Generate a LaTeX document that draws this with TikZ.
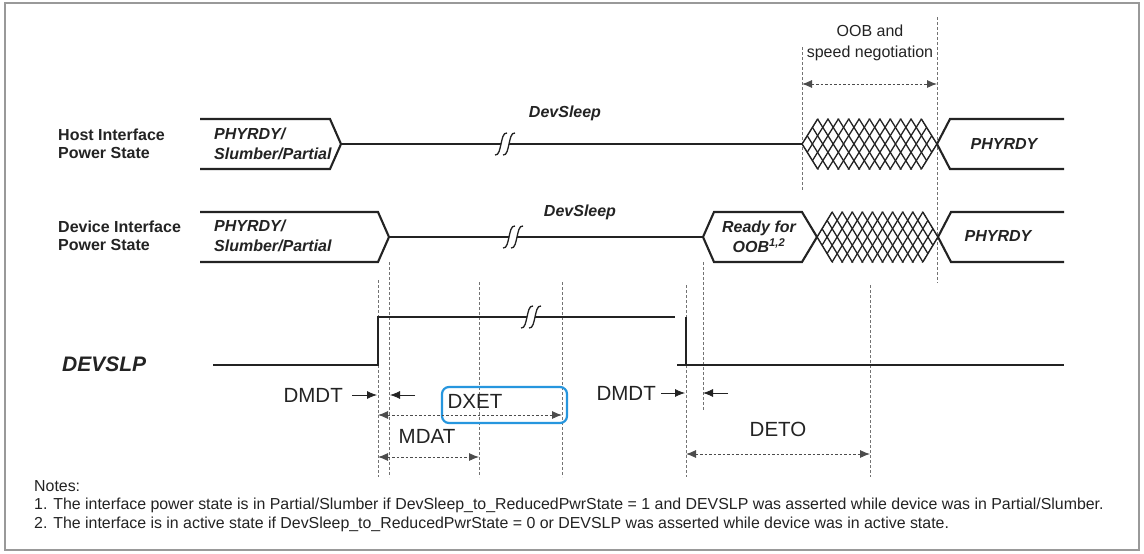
\documentclass[tikz,border=0pt]{standalone}
\usepackage{fontspec}
\setmainfont{Liberation Sans}
\usetikzlibrary{arrows.meta}
\definecolor{hiblue}{RGB}{38,150,222}
\definecolor{ink}{RGB}{35,35,35}
\newcommand\brkmk[2]{%
  \fill[white] ({#1-4},{#2-3}) rectangle ({#1+4},{#2+3});
  \foreach \dd in {-4,4}{%
    \draw[line width=1.3pt, ink] ({#1+\dd-6},{#2+11}) .. controls ({#1+\dd-2},{#2+12}) and ({#1+\dd-1},{#2+4}) .. ({#1+\dd},{#2}) .. controls ({#1+\dd+1},{#2-4}) and ({#1+\dd+2},{#2-12}) .. ({#1+\dd+6},{#2-11});}}
\newcommand\hatchx[4]{% x0, N, w, ymid
  \begin{scope}
  \clip (#1,#4) -- ({#1+1.5*#3},{#4-25.5}) -- ({#1+(#2-1.5)*#3},{#4-25.5}) -- ({#1+#2*#3},#4) -- ({#1+(#2-1.5)*#3},{#4+25.5}) -- ({#1+1.5*#3},{#4+25.5}) -- cycle;
  \foreach \i in {-3,...,17}{%
    \draw[hatchln] ({#1+(\i-2)*#3},{#4+33.33}) -- ({#1+(\i+2)*#3},{#4-33.33});
    \draw[hatchln] ({#1+(\i-2)*#3},{#4-33.33}) -- ({#1+(\i+2)*#3},{#4+33.33});}
  \end{scope}
  \draw[hatchln] ({#1+1.5*#3},{#4-25}) -- (#1,#4) -- ({#1+1.5*#3},{#4+25});
  \draw[hatchln] ({#1+(#2-1.5)*#3},{#4-25}) -- ({#1+#2*#3},#4) -- ({#1+(#2-1.5)*#3},{#4+25});}
\begin{document}
\begin{tikzpicture}[x=1pt,y=-1pt,
  sig/.style={line width=1.7pt, draw=ink},
  bus/.style={line width=2.1pt, draw=ink},
  hatchln/.style={line width=1.3pt, draw=ink},
  guide/.style={draw=black!55, line width=0.75pt, dash pattern=on 3pt off 2pt},
  meas/.style={draw=black!70, line width=0.9pt, dash pattern=on 2.5pt off 2pt, {Latex[length=10pt,width=8pt]}-{Latex[length=10pt,width=8pt]}},
  ptr/.style={draw=ink, line width=0.8pt, -{Latex[length=10pt,width=8pt]}},
  lbl/.style={font=\fontsize{16}{18.5}\selectfont\bfseries, text=ink, align=left, inner sep=0pt},
  st/.style={font=\fontsize{16}{20}\selectfont\bfseries\itshape, text=ink, align=left, inner sep=0pt},
  oob/.style={font=\fontsize{16}{21}\selectfont, text=ink, align=center, inner sep=0pt},
  tm/.style={font=\fontsize{20.5}{22}\selectfont, text=ink, inner sep=0pt},
  notes/.style={font=\fontsize{15.9}{18}\selectfont, text=ink, inner sep=0pt, anchor=west},
  ]
\useasboundingbox (0,0) rectangle (1144,554);
\fill[white] (0,0) rectangle (1144,554);
\draw[black!40, line width=2pt] (5,3) rectangle (1139,550);

% ---------- guides ----------
\draw[guide] (802,47) -- (802,190);
\draw[guide] (937,17) -- (937,283);
\draw[guide] (378,280) -- (378,477);
\draw[guide] (389,262) -- (389,477);
\draw[guide] (479,282) -- (479,477);
\draw[guide] (562,282) -- (562,477);
\draw[guide] (686,285) -- (686,477);
\draw[guide] (703,262) -- (703,410);
\draw[guide] (870,285) -- (870,477);

% ---------- labels ----------
\node[lbl, anchor=west] (hostlbl) at (58,144) {Host Interface\\Power State};
\node[lbl, anchor=west] (devlbl) at (58,236) {Device Interface\\Power State};
\node[font=\fontsize{21}{24}\selectfont\bfseries\itshape, text=ink, inner sep=0pt, anchor=west] (devslp) at (62,364) {DEVSLP};

% ---------- host row ----------
\draw[bus] (200,119) -- (330,119) -- (341,144) -- (330,169) -- (200,169);
\node[st, anchor=west] (hostst) at (214,144) {PHYRDY/\\Slumber/Partial};
\draw[sig] (341,144) -- (802,144);
\brkmk{505}{144}
\node[st] (hostds) at (565,113) {DevSleep};
\hatchx{802}{13}{10.385}{144}
\draw[bus] (1064,119) -- (950,119) -- (937,144) -- (950,169) -- (1064,169);
\node[st] (hostphy) at (1004,144) {PHYRDY};

% OOB
\node[oob] (oobtxt) at (870,43) {OOB and\\speed negotiation};
\coordinate (oobL) at (802,84);
\coordinate (oobR) at (937,84);
\draw[meas] (oobL) -- (oobR);

% ---------- device row ----------
\draw[bus] (200,212) -- (378,212) -- (389,237) -- (378,262) -- (200,262);
\node[st, anchor=west] (devst) at (214,236) {PHYRDY/\\Slumber/Partial};
\draw[sig] (389,237) -- (703,237);
\brkmk{513}{237}
\node[st] (devds) at (580,212) {DevSleep};
\draw[bus] (817,237) -- (802,212) -- (714,212) -- (703,237) -- (714,262) -- (802,262) -- cycle;
\node[st, align=center] (ready) at (759,237) {Ready for\\OOB\textsuperscript{1,2}};
\hatchx{817}{12}{10.083}{237}
\draw[bus] (1064,212) -- (951,212) -- (938,237) -- (951,262) -- (1064,262);
\node[st] (devphy) at (998,236) {PHYRDY};

% ---------- DEVSLP ----------
\draw[sig] (213,365) -- (378,365) -- (378,317) -- (675,317);
\brkmk{531}{317}
\draw[sig] (686,317) -- (686,365);
\draw[sig] (677,365) -- (1064,365);

% ---------- timing ----------
\node[tm, anchor=east] (dmdt1) at (343,395) {DMDT};
\coordinate (d1a) at (352,395); \coordinate (d1b) at (377,395);
\draw[ptr] (d1a) -- (d1b);
\coordinate (d1c) at (415,395); \coordinate (d1d) at (390,395);
\draw[ptr] (d1c) -- (d1d);

\draw[hiblue, line width=2.2pt, rounded corners=7pt] (442,387) rectangle (567,423);
\node[tm] (dxet) at (475,401) {DXET};
\coordinate (dxL) at (378,415); \coordinate (dxR) at (562,415);
\draw[meas] (dxL) -- (dxR);
\node[tm] (mdat) at (427,436) {MDAT};
\coordinate (mdL) at (378,457); \coordinate (mdR) at (479,457);
\draw[meas] (mdL) -- (mdR);

\node[tm, anchor=east] (dmdt2) at (656,393) {DMDT};
\coordinate (d2a) at (661,393); \coordinate (d2b) at (685,393);
\draw[ptr] (d2a) -- (d2b);
\coordinate (d2c) at (728,393); \coordinate (d2d) at (703,393);
\draw[ptr] (d2c) -- (d2d);
\node[tm] (deto) at (778,429) {DETO};
\coordinate (deL) at (686,454); \coordinate (deR) at (870,454);
\draw[meas] (deL) -- (deR);

% ---------- notes ----------
\node[notes] (n0) at (34,486) {Notes:};
\node[notes] (n1) at (34,505) {1. The interface power state is in Partial/Slumber if DevSleep\_to\_ReducedPwrState = 1 and DEVSLP was asserted while device was in Partial/Slumber.};
\node[notes] (n2) at (34,524) {2. The interface is in active state if DevSleep\_to\_ReducedPwrState = 0 or DEVSLP was asserted while device was in active state.};
\end{tikzpicture}
\end{document}
